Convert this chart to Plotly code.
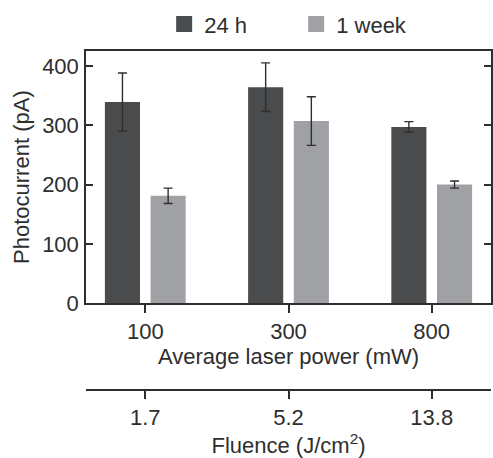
import plotly.graph_objects as go

# Photocurrent measured 24 h and 1 week after laser treatment
power_labels = ["100", "300", "800"]
fluence_labels = ["1.7", "5.2", "13.8"]
current_24h = [339, 364, 297]
err_24h = [49, 41, 9]
current_1wk = [181, 307, 200]
err_1wk = [13, 41, 6]

DARK = "#4a4b4d"
LIGHT = "#a0a1a4"
INK = "#2e2e2e"
FONT = "Liberation Sans, Arial, sans-serif"
FS = 22

x_pos = list(range(len(power_labels)))
x_range = [-0.414, 2.414]

fig = go.Figure()

fig.add_trace(go.Bar(
    x=x_pos, y=current_24h, width=0.245, offset=-0.282,
    marker=dict(color=DARK, line=dict(width=0)),
    error_y=dict(type="data", array=err_24h, color=INK, thickness=1.4, width=4.5),
    showlegend=False, name="24 h",
))
fig.add_trace(go.Bar(
    x=x_pos, y=current_1wk, width=0.245, offset=0.037,
    marker=dict(color=LIGHT, line=dict(width=0)),
    error_y=dict(type="data", array=err_1wk, color=INK, thickness=1.4, width=4.5),
    showlegend=False, name="1 week",
))

# legend entries with larger square swatches
for name, col in [("24 h", DARK), ("1 week", LIGHT)]:
    fig.add_trace(go.Scatter(
        x=[None], y=[None], mode="markers", name=name,
        marker=dict(symbol="square", size=16, color=col),
    ))

# secondary axis for fluence
fig.add_trace(go.Scatter(x=[None], y=[None], xaxis="x2", showlegend=False))

axis_common = dict(
    showline=True, linecolor=INK, linewidth=1.5,
    showgrid=False, zeroline=False,
    tickcolor=INK, tickwidth=1.5,
    tickfont=dict(family=FONT, size=FS, color=INK),
)
title_font = dict(family=FONT, size=FS, color=INK)

fig.update_layout(
    width=493, height=458,
    margin=dict(l=86, r=0, t=51, b=67),
    paper_bgcolor="white", plot_bgcolor="white",
    font=dict(family=FONT, size=FS, color=INK),
    barmode="overlay",
    legend=dict(
        orientation="h", x=0.193, xanchor="left", y=1.079, yanchor="middle",
        font=dict(family=FONT, size=FS, color=INK),
        itemsizing="trace", bgcolor="rgba(0,0,0,0)",
        entrywidth=87, entrywidthmode="pixels",
    ),
    xaxis=dict(
        **axis_common, range=x_range, tickmode="array",
        tickvals=x_pos, ticktext=power_labels,
        ticks="outside", ticklen=8, mirror=True,
        title=dict(text="Average laser power (mW)", font=title_font, standoff=5),
    ),
    xaxis2=dict(
        **axis_common, range=x_range, tickmode="array",
        tickvals=x_pos, ticktext=fluence_labels,
        ticks="outside", ticklen=8, overlaying="x", anchor="free",
        position=0, side="bottom",
        title=dict(text="Fluence (J/cm<sup>2</sup>)", font=title_font, standoff=12),
    ),
    yaxis=dict(
        **axis_common, domain=[0.2559, 1], range=[0, 425],
        tickmode="array", tickvals=[0, 100, 200, 300, 400],
        ticks="inside", ticklen=7, mirror="ticks", ticklabelstandoff=1,
        title=dict(text="Photocurrent (pA)", font=title_font, standoff=6),
    ),
)

fig.write_html("out.html")
